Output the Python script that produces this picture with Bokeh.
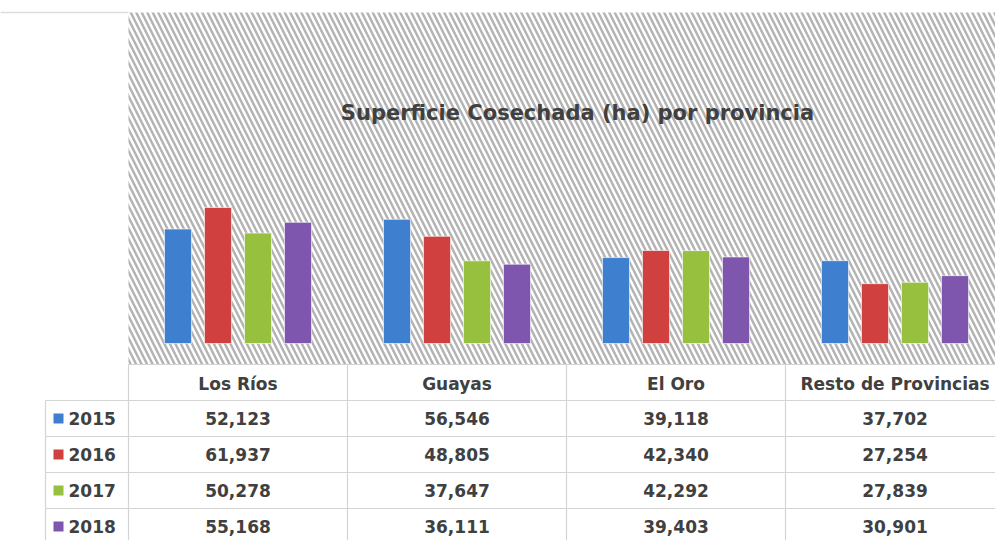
from bokeh.plotting import figure
from bokeh.models import Range1d
from bokeh.core.properties import value
from bokeh.embed import file_html
from bokeh.resources import INLINE

# ---- data ----
categories = ["Los Ríos", "Guayas", "El Oro", "Resto de Provincias"]
years = ["2015", "2016", "2017", "2018"]
v2015 = [52123, 56546, 39118, 37702]
v2016 = [61937, 48805, 42340, 27254]
v2017 = [50278, 37647, 42292, 27839]
v2018 = [55168, 36111, 39403, 30901]
series = [v2015, v2016, v2017, v2018]
colors = ["#3F7FCF", "#D0403F", "#97C03F", "#7F56AE"]

# ---- layout (pixels) ----
W, H = 995, 540
PAGE = 0                 # picture origin of the figure
COL0 = 128               # x of first category column
COLW = 219               # column width in px
BASE = 343               # y of bar baseline
BAR_TOP_PX = 136         # px height of the tallest bar
ROW0 = 364               # y of table header top
ROWH = 36                # table row height

vmax = max(max(s) for s in series)
ha_per_px = vmax / BAR_TOP_PX

def ux(px):   # picture x -> column units
    return (px - COL0) / COLW

def ry(py):   # picture y -> table row units
    return (py - ROW0) / ROWH

x_start = ux(PAGE)
x_end = ux(PAGE + W)
y_top = (BASE - PAGE) * ha_per_px
y_bot = -(PAGE + H - BASE) * ha_per_px

p = figure(width=W, height=H, output_backend="svg", toolbar_location=None,
           x_range=Range1d(x_start, x_end), y_range=Range1d(y_bot, y_top),
           x_axis_location=None, y_axis_location=None, min_border=0)
p.outline_line_color = None
p.grid.visible = False
p.background_fill_color = "white"
p.border_fill_color = "white"
p.extra_y_ranges = {"tbl": Range1d(ry(PAGE + H), ry(PAGE))}

font = value("DejaVu Sans")
txt_color = "#404040"
grid_color = "#d4d4d4"

# hatched chart area
p.quad(left=[0], right=[x_end + 1], top=[ry(12)], bottom=[0], y_range_name="tbl",
       fill_color="white", line_color=None,
       hatch_pattern="\\", hatch_color="#b4b4b4", hatch_weight=2.5, hatch_scale=11)
# thin line left of chart area at top
p.segment(x0=[x_start], x1=[0], y0=[ry(12)], y1=[ry(12)], y_range_name="tbl",
          line_color="#dcdcdc", line_width=1.5)

# bars
bar_w = 27 / COLW
step = 40 / COLW
for j, (yr, vals, c) in enumerate(zip(years, series, colors)):
    xs = [i + 0.5 + (j - 1.5) * step for i in range(len(categories))]
    p.vbar(x=xs, top=vals, bottom=0, width=bar_w, fill_color=c,
           line_color="white", line_width=1, line_alpha=0.6)

# title
p.text(x=[ux(577)], y=[ry(112)], y_range_name="tbl",
       text=["Superficie Cosechada (ha) por provincia"],
       text_font=font, text_font_style="bold", text_font_size="21px",
       text_color=txt_color, text_align="center", text_baseline="middle")

# table grid lines
nrows = len(years)
first_left = ux(45)
hx0, hx1, hy = [], [], []
hx0.append(0); hx1.append(x_end + 1); hy.append(0)
for r in range(1, nrows + 2):
    hx0.append(first_left); hx1.append(x_end + 1); hy.append(r)
p.segment(x0=hx0, x1=hx1, y0=hy, y1=hy, y_range_name="tbl",
          line_color=grid_color, line_width=1.2)
vx, vy0, vy1 = [first_left], [1], [nrows + 1]
for i in range(len(categories) + 1):
    vx.append(i); vy0.append(0); vy1.append(nrows + 1)
p.segment(x0=vx, x1=vx, y0=vy0, y1=vy1, y_range_name="tbl",
          line_color=grid_color, line_width=1.2)

# header text
p.text(x=[i + 0.5 for i in range(len(categories))], y=[0.55] * len(categories),
       y_range_name="tbl", text=categories, text_font=font, text_font_style="bold",
       text_font_size="17px", text_color=txt_color, text_align="center",
       text_baseline="middle")

# values
for j, vals in enumerate(series):
    p.text(x=[i + 0.5 for i in range(len(categories))], y=[j + 1.5] * len(vals),
           y_range_name="tbl", text=[f"{v:,}" for v in vals], text_font=font,
           text_font_style="bold", text_font_size="17px", text_color=txt_color,
           text_align="center", text_baseline="middle")

# legend keys + year labels
p.scatter(x=[ux(58)] * nrows, y=[j + 1.5 for j in range(nrows)], y_range_name="tbl",
          marker="square", size=10, fill_color=colors, line_color=None)
p.text(x=[ux(68)] * nrows, y=[j + 1.5 for j in range(nrows)], y_range_name="tbl",
       text=years, text_font=font, text_font_style="bold", text_font_size="17px",
       text_color=txt_color, text_align="left", text_baseline="middle")

open("out.html", "w").write(file_html(p, INLINE))
